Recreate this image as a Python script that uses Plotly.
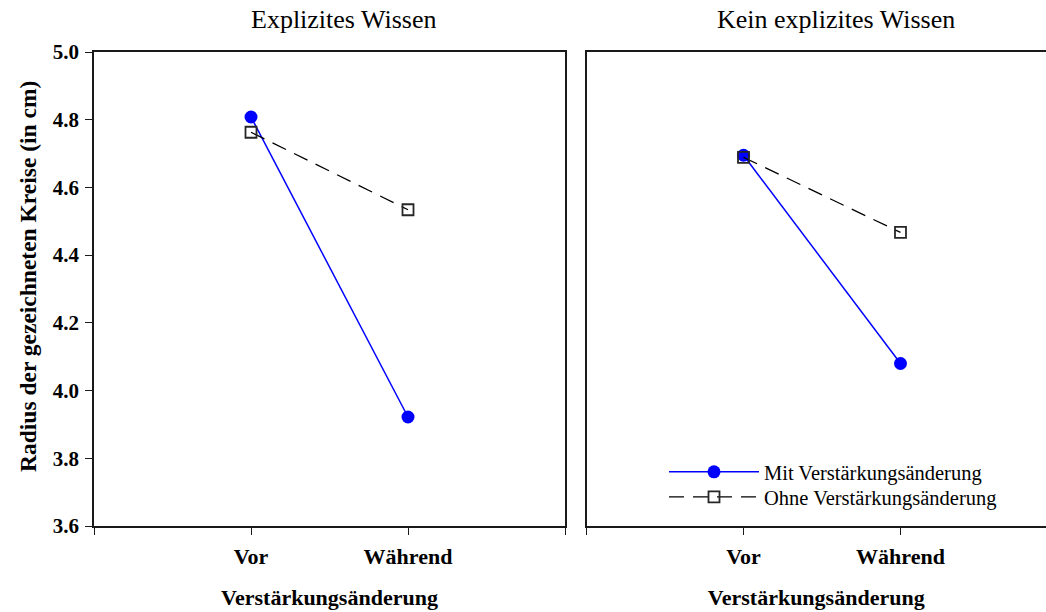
import plotly.graph_objects as go

# Messzeitpunkte
conditions = ["Vor", "Während"]
cond_pos = [1, 2]

# Mittlere Radien (in cm) je Gruppe
explizit_mit = [4.808, 3.922]
explizit_ohne = [4.763, 4.534]
kein_mit = [4.695, 4.080]
kein_ohne = [4.689, 4.467]

y_ticks = [3.6, 3.8, 4.0, 4.2, 4.4, 4.6, 4.8, 5.0]
y_ticktext = ["3.6", "3.8", "4.0", "4.2", "4.4", "4.6", "4.8", "5.0"]

panel_titles = ["Explizites Wissen", "Kein explizites Wissen"]
y_title = "Radius der gezeichneten Kreise (in cm)"

serif = "Liberation Serif, Times New Roman, serif"
blue = "#0000ff"
frame = "#1a1a1a"

fig = go.Figure()

mit_style = dict(
    mode="lines+markers",
    line=dict(color=blue, width=1.5),
    marker=dict(symbol="circle", size=13, color=blue),
)
ohne_style = dict(
    mode="lines+markers",
    line=dict(color="black", width=1.3, dash="15px,9px"),
    marker=dict(symbol="square-open", size=11, color="#262626",
                line=dict(width=1.8, color="#262626")),
)

# Mit und Ohne bekommen je eine eigene Legendenzeile
fig.add_trace(go.Scatter(x=cond_pos, y=explizit_mit, name="Mit Verstärkungsänderung",
                         xaxis="x", yaxis="y", showlegend=True, legend="legend",
                         **mit_style))
fig.add_trace(go.Scatter(x=cond_pos, y=explizit_ohne, name="Ohne Verstärkungsänderung",
                         xaxis="x", yaxis="y", showlegend=True, legend="legend2",
                         **ohne_style))
fig.add_trace(go.Scatter(x=cond_pos, y=kein_mit, name="Mit Verstärkungsänderung",
                         xaxis="x2", yaxis="y2", showlegend=False, **mit_style))
fig.add_trace(go.Scatter(x=cond_pos, y=kein_ohne, name="Ohne Verstärkungsänderung",
                         xaxis="x2", yaxis="y2", showlegend=False, **ohne_style))

W, H = 1046, 612
y_dom = [1 - 526 / H, 1 - 52 / H]
unit_px = (565 - 94) / 3.0

tickfont = dict(family=serif, size=22, color="black")

xaxis_common = dict(
    tickvals=[0, 1, 2, 3],
    ticktext=["", "<b>Vor</b>", "<b>Während</b>", ""],
    ticks="outside", ticklen=7, tickwidth=1.2, tickcolor=frame,
    showline=True, linecolor=frame, linewidth=1.5,
    showgrid=False, zeroline=False,
    tickfont=tickfont,
    ticklabelstandoff=3,
    automargin=False,
    title=dict(text="<b>Verstärkungsänderung</b>",
               font=dict(family=serif, size=22, color="black"), standoff=21),
    fixedrange=True,
)

legend_common = dict(
    xanchor="left", yanchor="top",
    bgcolor="rgba(0,0,0,0)", borderwidth=0,
    font=dict(family=serif, size=20.5, color="black"),
    tracegroupgap=0, itemwidth=90,
)

fig.update_layout(
    template="none",
    width=W, height=H,
    margin=dict(l=0, r=0, t=0, b=0, pad=0),
    paper_bgcolor="white", plot_bgcolor="white",
    font=dict(family=serif, color="black"),
    xaxis=dict(domain=[94 / W, 565 / W], range=[0, 3], mirror=True, anchor="y",
               **xaxis_common),
    xaxis2=dict(domain=[586.5 / W, 1], range=[0, (W - 586.5) / unit_px], mirror=True,
                anchor="y2", **xaxis_common),
    yaxis=dict(
        domain=y_dom, range=[3.6, 5.0], anchor="x",
        tickvals=y_ticks, ticktext=[f"<b>{t}</b>" for t in y_ticktext],
        ticks="outside", ticklen=7, tickwidth=1.2, tickcolor=frame,
        showline=True, linecolor=frame, linewidth=1.5, mirror=True,
        showgrid=False, zeroline=False,
        tickfont=dict(family=serif, size=21, color="black"),
        ticklabelstandoff=2,
        automargin=False,
        fixedrange=True,
    ),
    yaxis2=dict(
        domain=y_dom, range=[3.6, 5.0], anchor="x2",
        showticklabels=False, ticks="",
        showline=True, linecolor=frame, linewidth=1.5,
        showgrid=False, zeroline=False, fixedrange=True, automargin=False,
    ),
    legend=dict(x=664 / W, y=1 - 452 / H, **legend_common),
    legend2=dict(x=664 / W, y=1 - 477 / H, **legend_common),
    showlegend=True,
)

# Gemeinsame y-Achsenbeschriftung, links neben dem ersten Panel
fig.add_annotation(x=28 / W, y=1 - 277 / H, xref="paper", yref="paper",
                   text=f"<b>{y_title}</b>", textangle=-90, showarrow=False,
                   font=dict(family=serif, size=23.5, color="black"),
                   xanchor="center", yanchor="middle")

for x_center, text in zip([344 / W, 836 / W], panel_titles):
    fig.add_annotation(x=x_center, y=1 - 19 / H, xref="paper", yref="paper",
                       text=text, showarrow=False,
                       font=dict(family=serif, size=26, color="black"),
                       xanchor="center", yanchor="middle")

fig.write_html("out.html")
